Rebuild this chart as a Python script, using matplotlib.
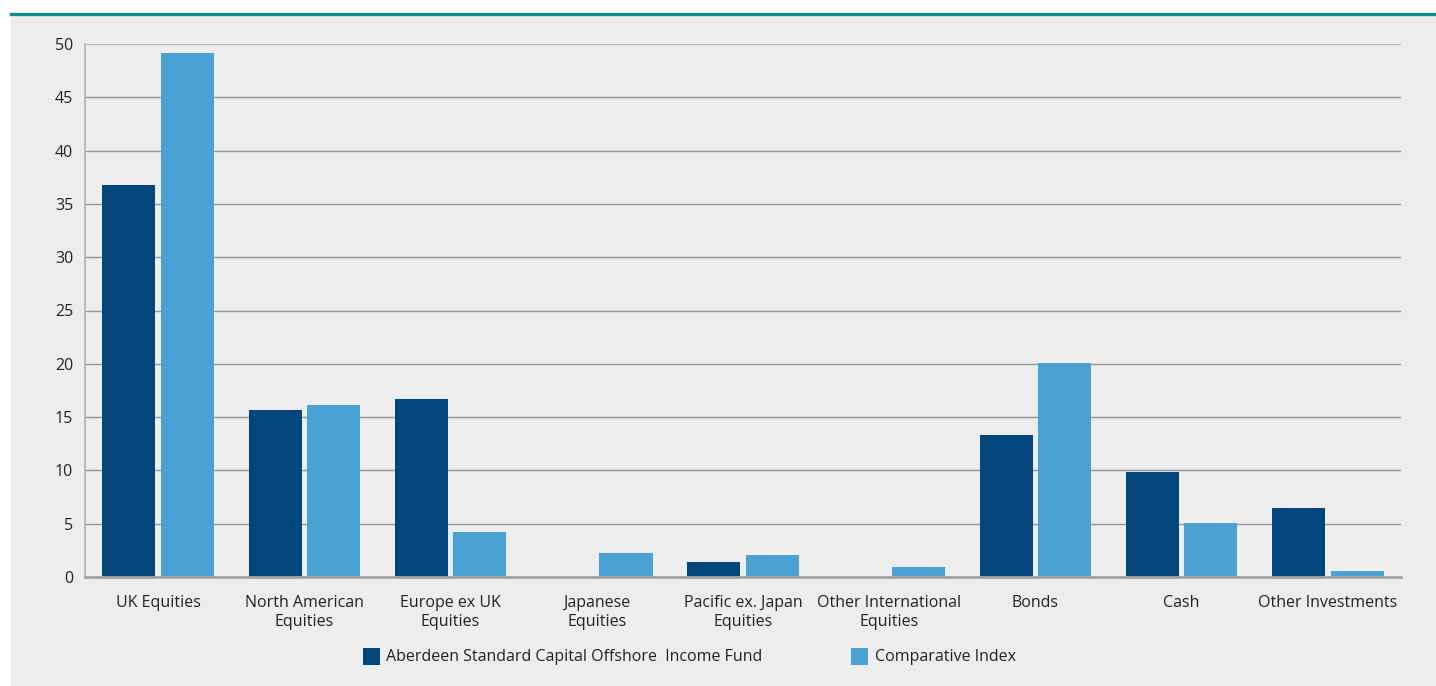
import matplotlib
matplotlib.use("Agg")
import matplotlib.pyplot as plt
from matplotlib.patches import Rectangle
from matplotlib.lines import Line2D
import numpy as np

categories = ["UK Equities", "North American\nEquities", "Europe ex UK\nEquities",
              "Japanese\nEquities", "Pacific ex. Japan\nEquities",
              "Other International\nEquities", "Bonds", "Cash", "Other Investments"]
fund = [36.8, 15.7, 16.7, 0.0, 1.4, 0.0, 13.3, 9.85, 6.5]
index_vals = [49.2, 16.1, 4.2, 2.25, 2.05, 0.95, 20.1, 5.05, 0.55]
series_names = ["Aberdeen Standard Capital Offshore  Income Fund", "Comparative Index"]
yticks = [0, 5, 10, 15, 20, 25, 30, 35, 40, 45, 50]

plt.rcParams['font.family'] = ['Open Sans', 'DejaVu Sans']

W, H = 1436, 686
FS = 11.5
fig = plt.figure(figsize=(W / 100, H / 100), dpi=100)
fig.patch.set_facecolor("white")
# grey panel
fig.patches.append(Rectangle((11 / W, 0), 1 - 11 / W, (H - 14) / H, transform=fig.transFigure,
                             facecolor="#ededed", edgecolor="none", zorder=-10))
fig.lines.append(Line2D([11 / W, 1], [(H - 13.5) / H] * 2, transform=fig.transFigure,
                        color="#15878f", linewidth=2.4, zorder=-5))

ax = fig.add_axes([85 / W, (H - 577) / H, 1316 / W, 533 / H])
ax.set_zorder(5)
ax.patch.set_alpha(0)

x = np.arange(len(categories))
bw = 0.363
off = 0.2
ax.bar(x - off, fund, bw, color="#00457c", zorder=3, label=series_names[0])
ax.bar(x + off, index_vals, bw, color="#4aa2d2", zorder=3, label=series_names[1])

ax.set_xlim(-0.5, len(categories) - 0.5)
ax.set_ylim(0, 50)
ax.set_yticks(yticks)
ax.set_yticklabels([str(v) for v in yticks])
ax.set_xticks(x)
ax.set_xticklabels(categories, linespacing=1.25)
ax.tick_params(axis="both", length=0, labelsize=FS, labelcolor="#222222")
ax.tick_params(axis="y", pad=8.5)
ax.tick_params(axis="x", pad=13)

for v in yticks[1:]:
    ax.axhline(v, color="#bdbdbd" if v == 50 else "#959595", linewidth=1.0, zorder=1)

for s in ["top", "right"]:
    ax.spines[s].set_visible(False)
ax.spines["left"].set_color("#b0b0b0")
ax.spines["left"].set_linewidth(1.2)
ax.spines["bottom"].set_color("#a3a3a3")
ax.spines["bottom"].set_linewidth(2.0)
ax.spines["bottom"].set_zorder(4)

# legend
ly = (H - 657) / H
fig.patches.append(Rectangle((363 / W, (H - 665) / H), 17 / W, 17 / H, transform=fig.transFigure,
                             facecolor="#00457c", edgecolor="none", zorder=2))
fig.text(386 / W, ly, series_names[0], ha="left", va="center", fontsize=FS, color="#222222")
fig.patches.append(Rectangle((851 / W, (H - 665) / H), 17 / W, 17 / H, transform=fig.transFigure,
                             facecolor="#4aa2d2", edgecolor="none", zorder=2))
fig.text(875 / W, ly, series_names[1], ha="left", va="center", fontsize=FS, color="#222222")

fig.savefig("out.png", dpi=100)
